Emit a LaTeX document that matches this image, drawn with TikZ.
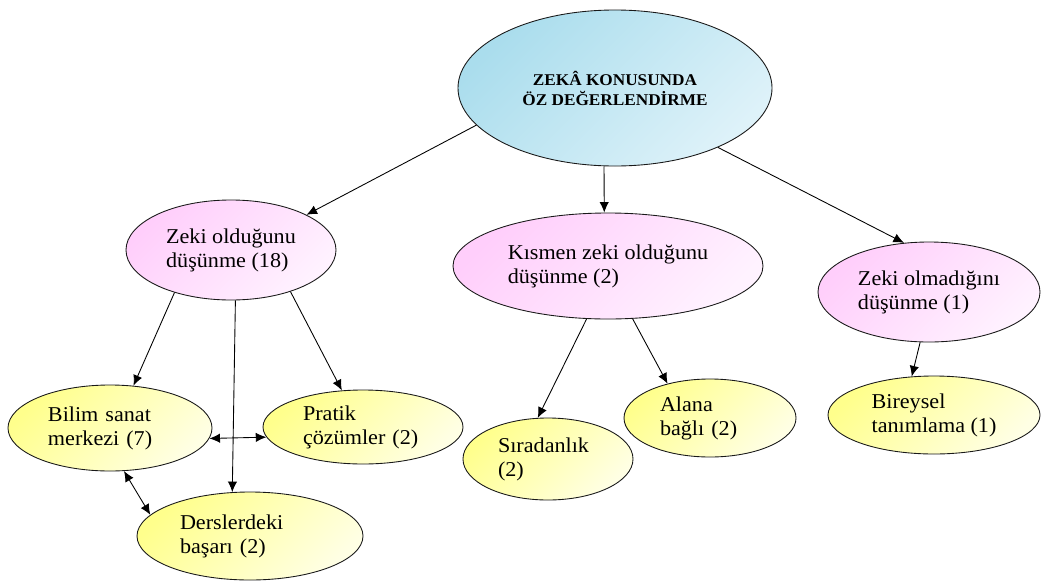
\documentclass[tikz,border=0pt]{standalone}
\usepackage{fontspec}
\setmainfont{Liberation Serif}[FakeStretch=1.05]
\usepackage{tikz}
\usetikzlibrary{arrows.meta,shapes.geometric}

\definecolor{bluetl}{RGB}{170,221,237}
\definecolor{bluebr}{RGB}{222,242,249}
\definecolor{pinktl}{RGB}{255,206,251}
\definecolor{pinkbr}{RGB}{255,242,255}
\definecolor{yeltl}{RGB}{255,255,140}
\definecolor{yelbr}{RGB}{255,255,228}

\begin{document}
\begin{tikzpicture}[x=0.03cm,y=-0.03cm,
  oval/.style={ellipse,draw=black!90,line width=0.75pt,inner sep=0pt,align=left,
    font=\fontsize{18}{20.5}\selectfont},
  blueoval/.style={oval,top color=bluetl,bottom color=bluebr,shading angle=45},
  pinkoval/.style={oval,top color=pinktl,bottom color=pinkbr,shading angle=45},
  yeloval/.style={oval,top color=yeltl,bottom color=yelbr,shading angle=45},
  arr/.style={-{Latex[length=9pt,width=8pt]},line width=0.75pt,black},
  dblarr/.style={{Latex[length=9pt,width=8pt]}-{Latex[length=9pt,width=8pt]},line width=0.75pt,black}]
\fill[white] (0,0) rectangle (1042,585);
\useasboundingbox (0,0) rectangle (1042,585);

% top level
\node[blueoval,align=center,minimum width=9.42cm,minimum height=4.68cm,
  font=\fontsize{14}{17}\selectfont\bfseries] (top) at (615,88)
  {ZEKÂ KONUSUNDA\\ÖZ DEĞERLENDİRME};

% second level
\node[pinkoval,minimum width=6.3cm,minimum height=3.0cm] (yes) at (231,250)
  {Zeki olduğunu\\düşünme (18)};
\node[pinkoval,minimum width=9.3cm,minimum height=3.18cm] (part) at (608,266)
  {Kısmen zeki olduğunu\\düşünme (2)};
\node[pinkoval,minimum width=6.66cm,minimum height=3.0cm] (no) at (929,292)
  {Zeki olmadığını\\düşünme (1)};

% third level (text width sets the left edge of the text)
\node[yeloval,minimum width=6.12cm,minimum height=2.58cm,text width=3.72cm] (bsm) at (110,428)
  {Bilim sanat\\merkezi (7)};
\node[yeloval,minimum width=6.0cm,minimum height=2.22cm,text width=3.6cm] (prat) at (363,427)
  {Pratik\\çözümler (2)};
\node[yeloval,minimum width=6.78cm,minimum height=2.64cm,text width=4.2cm] (ders) at (250,536)
  {Derslerdeki\\başarı (2)};
\node[yeloval,minimum width=5.1cm,minimum height=2.46cm,text width=3.0cm] (sira) at (548,459)
  {Sıradanlık\\(2)};
\node[yeloval,minimum width=5.16cm,minimum height=2.34cm,text width=3.0cm] (alan) at (710,418)
  {Alana\\bağlı (2)};
\node[yeloval,minimum width=6.36cm,minimum height=2.34cm] (birey) at (934,415)
  {Bireysel\\tanımlama (1)};

% connectors
\draw[arr] (top.195) -- (yes.25);
\draw[arr] (top.262) -- (part.94);
\draw[arr] (top.330) -- (no.117);
\draw[arr] (yes.217) -- (bsm.61);
\draw[arr] (yes.275) -- (ders.112);
\draw[arr] (yes.325) -- (prat.120);
\draw[dblarr] (bsm.354.2) -- (prat.186.6);
\draw[dblarr] (bsm.288) -- (ders.168);
\draw[arr] (part.248) -- (sira.104);
\draw[arr] (part.295.5) -- (alan.141);
\draw[arr] (no.260) -- (birey.120);
\end{tikzpicture}
\end{document}
